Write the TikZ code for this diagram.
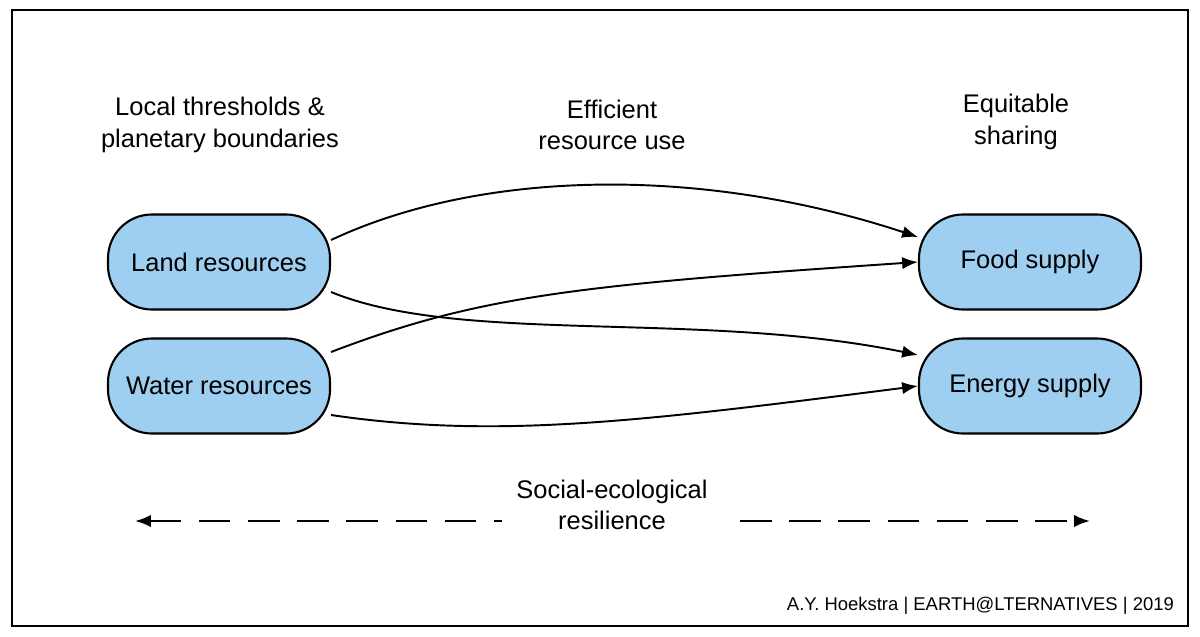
\documentclass[tikz,border=0pt]{standalone}
\usepackage{fontspec}
\setmainfont{Liberation Sans}
\usetikzlibrary{arrows.meta}
\definecolor{boxblue}{RGB}{158,206,240}
\begin{document}
\begin{tikzpicture}[x=0.02cm,y=-0.02cm,
 res/.style={draw,line width=1.2pt,fill=boxblue,rounded corners=25pt,minimum width=222*0.02cm,minimum height=95*0.02cm,font=\fontsize{14.5}{17}\selectfont},
 lab/.style={align=center,font=\fontsize{14.5}{18}\selectfont},
 arr/.style={line width=1.1pt,-{Latex[length=9pt,width=7pt]}}]
\useasboundingbox (0,0) rectangle (1200,636);
\draw[line width=0.8pt] (12,10) rectangle (1188,626);
\node[res] (land) at (219,262) {Land resources};
\node[res] (water) at (219,386) {Water resources};
\node[res] (food) at (1030,262) {Food supply};
\node[res] (energy) at (1030,386) {Energy supply};
\node[lab] (t1) at (220,125) {Local thresholds \&\\planetary boundaries};
\node[lab] (t2) at (612,125) {Efficient\\resource use};
\node[lab] (t3) at (1016,122) {Equitable\\sharing};
\draw[arr] (land.east |- 0,240) .. controls (480,170) and (700,165) .. (food.west |- 0,237);
\draw[arr] (water.east |- 0,352) .. controls (480,295) and (580,285) .. (food.west |- 0,262);
\draw[arr] (land.east |- 0,292) .. controls (460,345) and (700,310) .. (energy.west |- 0,355);
\draw[arr] (water.east |- 0,415) .. controls (500,440) and (650,420) .. (energy.west |- 0,386);
\coordinate (dl) at (135,521);
\coordinate (dr) at (1090,521);
\draw[line width=1.3pt,dash pattern=on 18pt off 10pt,{Latex[length=9pt,width=7pt]}-{Latex[length=9pt,width=7pt]}] (dl) -- (dr);
\node[lab,fill=white,inner xsep=8pt] (soc) at (612,505) {Social-ecological\\resilience};
\node[anchor=east,font=\fontsize{10.5}{12}\selectfont] (cr) at (1180,606) {A.Y. Hoekstra | EARTH@LTERNATIVES | 2019};
\end{tikzpicture}
\end{document}
